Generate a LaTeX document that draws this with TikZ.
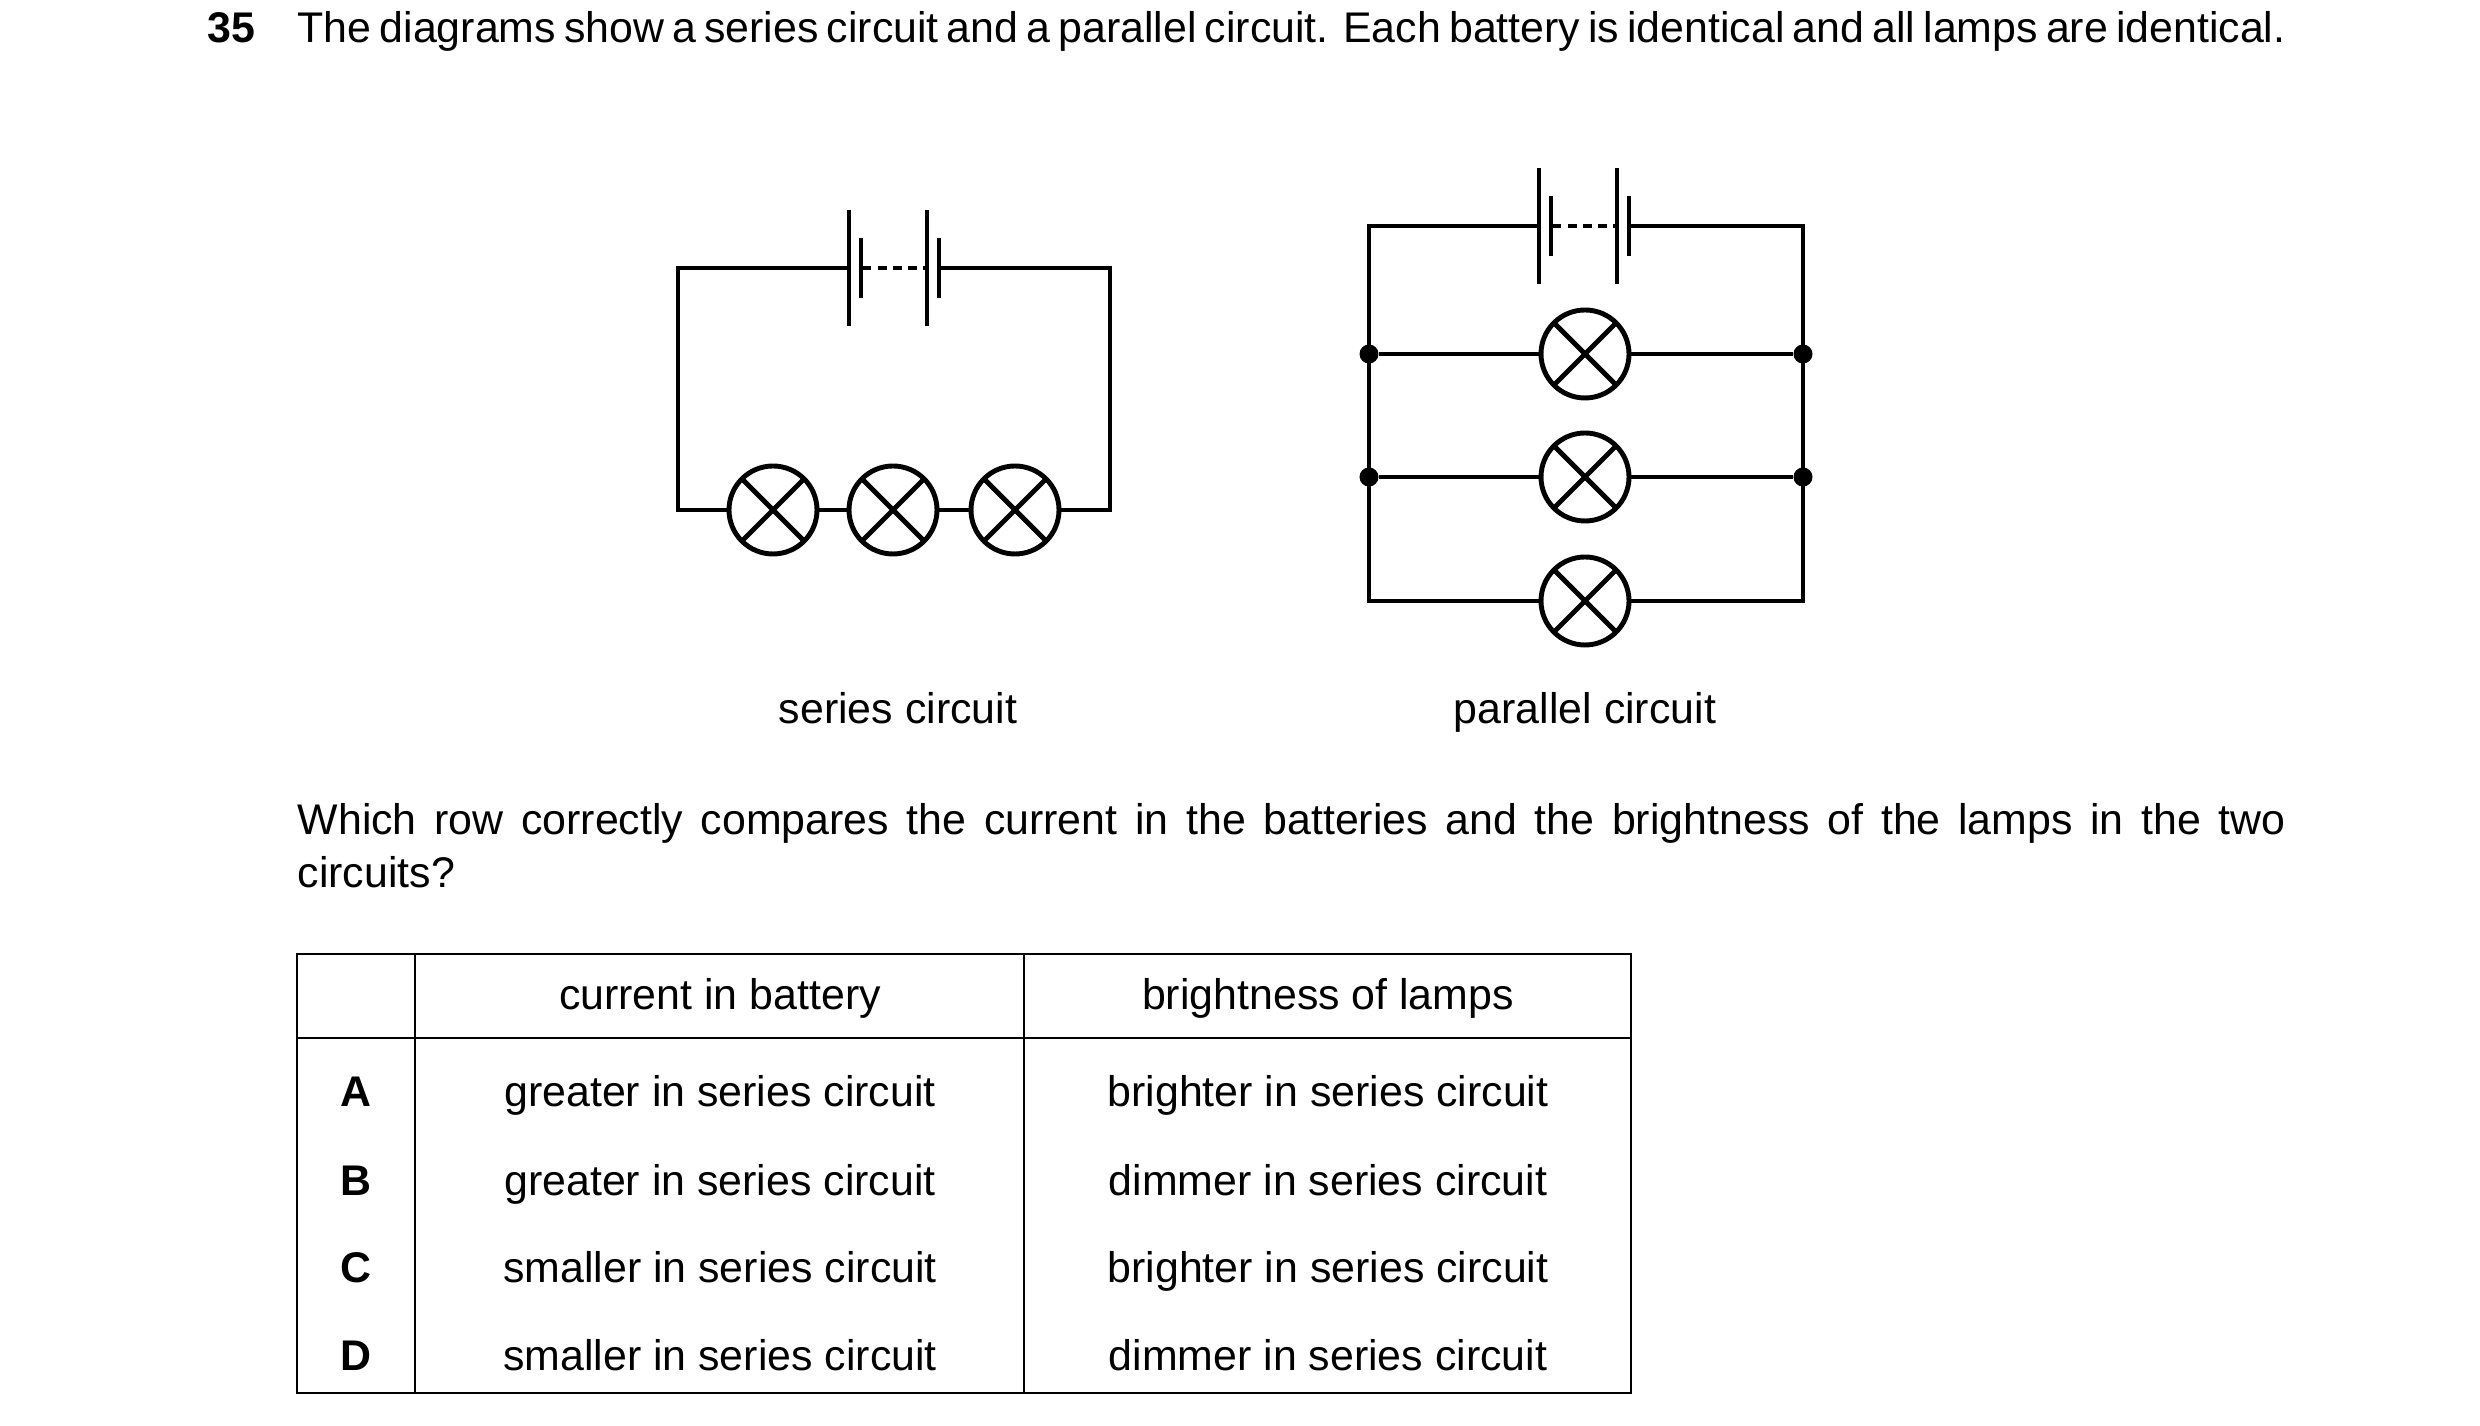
\documentclass[tikz,border=0pt]{standalone}
\usepackage{fontspec}
\setmainfont{Liberation Sans}
\usetikzlibrary{positioning}
\tikzset{
    wire/.style={line width=1.4pt},
    lamp/.style={circle, draw, line width=1.4pt, minimum size=8.8mm, inner sep=0pt,
        path picture={
            \draw[line width=1.4pt] (path picture bounding box.south west) -- (path picture bounding box.north east);
            \draw[line width=1.4pt] (path picture bounding box.north west) -- (path picture bounding box.south east);
        }},
    joint/.style={circle, fill, inner sep=0pt, minimum size=1.9mm},
    txt/.style={inner sep=0pt, font=\fontsize{12.2}{14.8}\selectfont},
}
\tikzset{
    battery/.pic={
		\draw[line width=1.4pt] (0,58) -- (0,-58);
		\draw[line width=1.4pt] (12,30) -- (12,-30);
		\draw[line width=1.4pt] (78,58) -- (78,-58);
		\draw[line width=1.4pt] (90,30) -- (90,-30);
		\draw[line width=1.4pt, dash pattern=on 2.4pt off 1.9pt] (14,0) -- (76,0);
		\coordinate (-l) at (0,0);
		\coordinate (-r) at (90,0);
	}
}
\begin{document}
\begin{tikzpicture}[x=0.1mm, y=-0.1mm]
        \useasboundingbox (0,0) rectangle (2480,1426);
        % question text
        \node[txt, font=\bfseries\fontsize{12.2}{14.8}\selectfont, anchor=base west] (num) at (207,43) {35};
        \node[txt, anchor=base west, text width=198.8mm, align=justify] (intro) at (297,43)
            {The diagrams show a series circuit and a parallel circuit. Each battery is identical and all lamps are identical.};
        % series circuit
        \pic (sb) at (849,268) {battery};
        \node[lamp] (s1) at (773,510) {};
        \node[lamp] (s2) at (893,510) {};
        \node[lamp] (s3) at (1015,510) {};
        \coordinate (stl) at (678,268);
        \coordinate (str) at (1110,268);
        \coordinate (sbl) at (678,510);
        \coordinate (sbr) at (1110,510);
        \draw[wire] (sb-l) -- (stl) -- (sbl) -- (s1);
        \draw[wire] (sb-r) -- (str) -- (sbr) -- (s3);
        \draw[wire] (s1) -- (s2);
        \draw[wire] (s2) -- (s3);
        \node[txt, anchor=base] (slabel) at (898,724) {series circuit};
        % parallel circuit
        \pic (pb) at (1539,226) {battery};
        \coordinate (ptl) at (1369,226);
        \coordinate (ptr) at (1803,226);
        \node[joint] (pl1) at (1369,354) {};
        \node[joint] (pr1) at (1803,354) {};
        \node[joint] (pl2) at (1369,477) {};
        \node[joint] (pr2) at (1803,477) {};
        \coordinate (pl3) at (1369,601);
        \coordinate (pr3) at (1803,601);
        \node[lamp] (p1) at (1585,354) {};
        \node[lamp] (p2) at (1585,477) {};
        \node[lamp] (p3) at (1585,601) {};
        \draw[wire] (pb-l) -- (ptl) -- (pl1.center) -- (pl2.center) -- (pl3) -- (p3);
        \draw[wire] (pb-r) -- (ptr) -- (pr1.center) -- (pr2.center) -- (pr3) -- (p3);
        \draw[wire] (pl1) -- (p1) -- (pr1);
        \draw[wire] (pl2) -- (p2) -- (pr2);
        \node[txt, anchor=base] (plabel) at (1585,724) {parallel circuit};
        % question
        \node[txt, anchor=base west, text width=198.8mm, align=justify] (ask) at (297,835)
            {Which row correctly compares the current in the batteries and the brightness of the lamps in the two circuits?};
        % table
        \draw[line width=0.8pt] (297,954) rectangle (1631,1393);
        \draw[line width=0.8pt] (297,1038) -- (1631,1038);
        \draw[line width=0.8pt] (415,954) -- (415,1393);
        \draw[line width=0.8pt] (1024,954) -- (1024,1393);
        \node[txt, anchor=base] (h1) at (720,1010) {current in battery};
        \node[txt, anchor=base] (h2) at (1328,1010) {brightness of lamps};
        \foreach \k/\y/\c/\b in {A/1107/greater/brighter, B/1196/greater/dimmer, C/1283/smaller/brighter, D/1371/smaller/dimmer}{
            \node[txt, anchor=base, font=\bfseries\fontsize{12.2}{14.8}\selectfont] (row\k) at (356,\y) {\k};
            \node[txt, anchor=base] (cur\k) at (720,\y) {\c\ in series circuit};
            \node[txt, anchor=base] (bri\k) at (1328,\y) {\b\ in series circuit};
        }
      \end{tikzpicture}
\end{document}
